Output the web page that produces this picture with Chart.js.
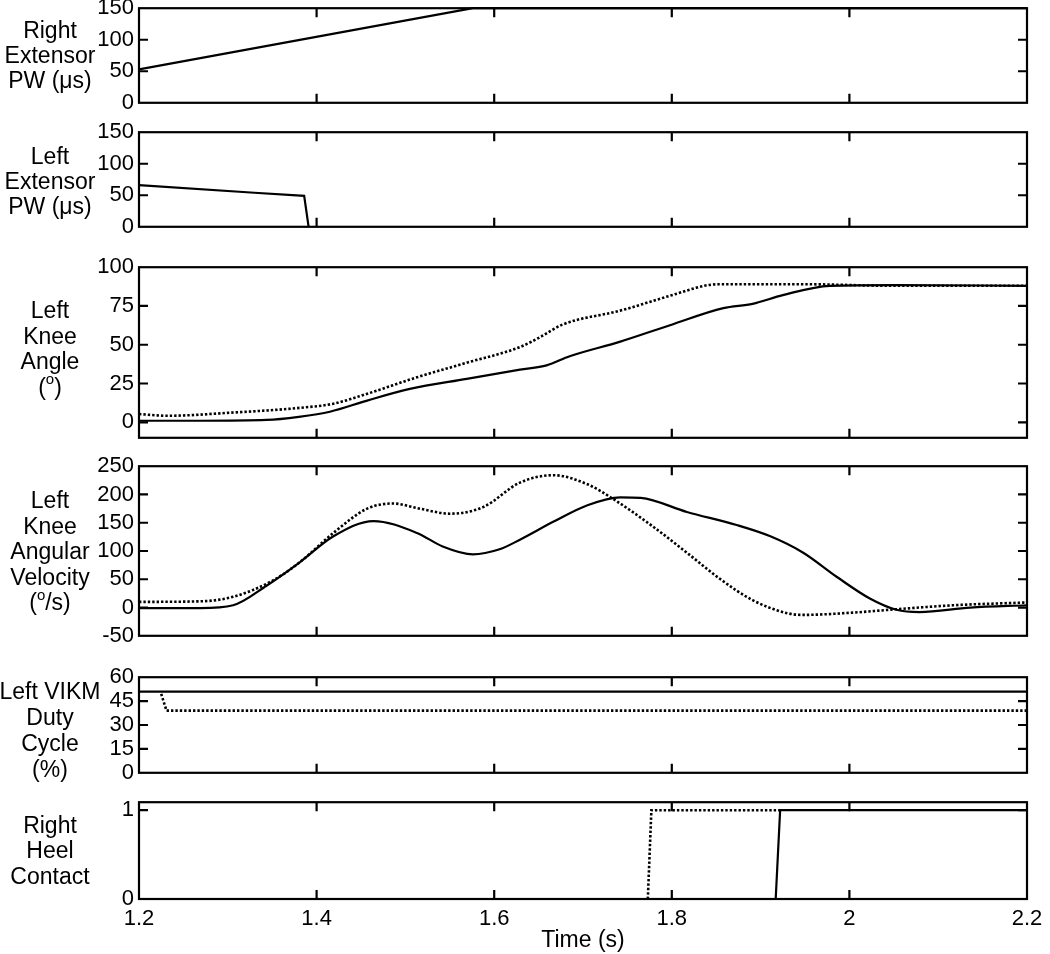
<!DOCTYPE html>
<html><head><meta charset="utf-8">
<script src="https://cdn.jsdelivr.net/npm/chart.js@4/dist/chart.umd.min.js"></script>
<style>
html,body{margin:0;padding:0;background:#fff;}
#wrap{position:relative;width:1050px;height:954px;overflow:hidden;background:#fff;}
#wrap canvas{position:absolute;left:0;}
</style>
</head><body><div id="wrap"></div>
<script>
// ---- x axis (time, s) ----
const timeTicks = [1.2, 1.4, 1.6, 1.8, 2.0, 2.2];
const timeTickLabels = ['1.2', '1.4', '1.6', '1.8', '2', '2.2'];

// ---- Right extensor PW (us) ----
const rightExtT  = [1.2, 1.576, 2.2];
const rightExtPW = [53, 150, 150];

// ---- Left extensor PW (us) ----
const leftExtT  = [1.2, 1.33, 1.386, 1.391];
const leftExtPW = [66, 54, 49, 0];

// ---- Left knee angle (deg) ----
const kneeAngleSolidT = [1.2, 1.27, 1.344, 1.38, 1.415, 1.457, 1.505, 1.569, 1.629, 1.659, 1.685, 1.742, 1.798, 1.858, 1.891, 1.925, 1.978, 2.05, 2.2];
const kneeAngleSolid  = [1, 1, 1.5, 3.5, 6.8, 14, 21.5, 28, 34, 36.7, 42.6, 52, 62.6, 73.6, 76.4, 82, 88, 88.5, 88];
const kneeAngleDotT = [1.2, 1.232, 1.306, 1.381, 1.419, 1.457, 1.513, 1.569, 1.629, 1.652, 1.677, 1.742, 1.798, 1.84, 1.854, 1.95, 2.05, 2.2];
const kneeAngleDot  = [5.3, 4.2, 6.3, 9.3, 12, 18.4, 29, 38.4, 48.5, 55, 63, 72, 81.6, 88.4, 89, 89, 88, 88];

// ---- Left knee angular velocity (deg/s) ----
const kneeVelSolidT = [1.2, 1.269, 1.306, 1.344, 1.381, 1.419, 1.464, 1.513, 1.542, 1.576, 1.606, 1.629, 1.667, 1.705, 1.742, 1.765, 1.817, 1.873, 1.911, 1.948, 1.986, 2.023, 2.053, 2.079, 2.136, 2.2];
const kneeVelSolid  = [-1, -1, 4, 39, 80, 126, 153, 132, 108, 94, 103, 120, 152, 181, 195, 194, 169, 146, 126, 97, 54, 16, -4, -8, 0, 4];
const kneeVelDotT = [1.2, 1.269, 1.306, 1.351, 1.381, 1.419, 1.457, 1.486, 1.516, 1.55, 1.588, 1.629, 1.667, 1.705, 1.734, 1.779, 1.817, 1.854, 1.891, 1.93, 1.948, 2.004, 2.053, 2.117, 2.2];
const kneeVelDot  = [10, 11, 19, 48, 80, 132, 175, 184, 175, 166, 178, 221, 234, 218, 192, 143, 97, 51, 13, -10, -13, -9, -3, 4, 9];

// ---- Left VIKM duty cycle (%) ----
const vikmSolidT = [1.2, 2.2];
const vikmSolid  = [51, 51];
const vikmDotT = [1.225, 1.231, 2.2];
const vikmDot  = [49.5, 39, 39];

// ---- Right heel contact ----
const heelSolidT = [1.917, 1.922, 2.2];
const heelSolid  = [0, 1, 1];
const heelDotT = [1.773, 1.777, 1.922];
const heelDot  = [0, 1, 1];

// ---- y tick values ----
const pwTicks = [0, 50, 100, 150];
const angleTicks = [0, 25, 50, 75, 100];
const velTicks = [-50, 0, 50, 100, 150, 200, 250];
const dutyTicks = [0, 15, 30, 45, 60];
const heelTicks = [0, 1];

const FONT = '"Liberation Sans", Arial, Helvetica, sans-serif';
const PLOT_LEFT = 139, PLOT_RIGHT = 1027, W = 1050, H = 954, TICK_LEN = 9;

const panels = [
  {title: ['Right', 'Extensor', 'PW (\u03bcs)'], titleY: 57, lh: 25, top: 6, bottom: 105, min: 0, max: 150, yTicks: pwTicks,
   series: [{t: rightExtT, v: rightExtPW, dot: false, smooth: false}]},
  {title: ['Left', 'Extensor', 'PW (\u03bcs)'], titleY: 183, lh: 25, top: 130, bottom: 229, min: 0, max: 150, yTicks: pwTicks,
   series: [{t: leftExtT, v: leftExtPW, dot: false, smooth: false}]},
  {title: ['Left', 'Knee', 'Angle', '(\u00b0)'], titleY: 350, lh: 25.5, top: 265, bottom: 440, min: -10, max: 100, yTicks: angleTicks,
   series: [{t: kneeAngleSolidT, v: kneeAngleSolid, dot: false, smooth: true}, {t: kneeAngleDotT, v: kneeAngleDot, dot: true, smooth: true}]},
  {title: ['Left', 'Knee', 'Angular', 'Velocity', '(\u00b0/s)'], titleY: 553, lh: 25.5, top: 464, bottom: 638, min: -50, max: 250, yTicks: velTicks,
   series: [{t: kneeVelSolidT, v: kneeVelSolid, dot: false, smooth: true}, {t: kneeVelDotT, v: kneeVelDot, dot: true, smooth: true}]},
  {title: ['Left VIKM', 'Duty', 'Cycle', '(%)'], titleY: 732, lh: 26, top: 675, bottom: 775, min: 0, max: 60, yTicks: dutyTicks,
   series: [{t: vikmSolidT, v: vikmSolid, dot: false, smooth: false}, {t: vikmDotT, v: vikmDot, dot: true, smooth: false}]},
  {title: ['Right', 'Heel', 'Contact'], titleY: 852, lh: 25.5, top: 800, bottom: 899, min: 0, max: 1.09, yTicks: heelTicks,
   series: [{t: heelSolidT, v: heelSolid, dot: false, smooth: false}, {t: heelDotT, v: heelDot, dot: true, smooth: false}]}
];

function drawRich(ctx, line, cx, cy) {
  // '\u00b0' is drawn as a superscript small "o"
  const parts = [];
  let buf = '';
  for (const ch of line) {
    if (ch === '\u00b0') { if (buf) parts.push({s: buf, sup: false}); buf = ''; parts.push({s: 'o', sup: true}); }
    else buf += ch;
  }
  if (buf) parts.push({s: buf, sup: false});
  let total = 0;
  parts.forEach(p => { ctx.font = (p.sup ? '15px ' : '23px ') + FONT; p.w = ctx.measureText(p.s).width; total += p.w; });
  let x = cx - total / 2;
  ctx.textAlign = 'left';
  parts.forEach(p => {
    ctx.font = (p.sup ? '15px ' : '23px ') + FONT;
    ctx.fillText(p.s, x, p.sup ? cy - 8 : cy);
    x += p.w;
  });
}

const framePlugin = {
  id: 'frame',
  afterDraw(chart, args, opts) {
    const {ctx, chartArea: a} = chart;
    const x = chart.scales.x, y = chart.scales.y;
    ctx.save();
    ctx.strokeStyle = '#000';
    ctx.lineWidth = 2.2;
    ctx.strokeRect(a.left, a.top, a.right - a.left, a.bottom - a.top);
    ctx.beginPath();
    timeTicks.forEach(v => {
      const px = x.getPixelForValue(v);
      if (px <= a.left + 1 || px >= a.right - 1) return;
      ctx.moveTo(px, a.bottom); ctx.lineTo(px, a.bottom - TICK_LEN);
      ctx.moveTo(px, a.top); ctx.lineTo(px, a.top + TICK_LEN);
    });
    opts.yTicks.forEach(v => {
      const py = y.getPixelForValue(v);
      if (py <= a.top + 1 || py >= a.bottom - 1) return;
      ctx.moveTo(a.left, py); ctx.lineTo(a.left + TICK_LEN, py);
      ctx.moveTo(a.right, py); ctx.lineTo(a.right - TICK_LEN, py);
    });
    ctx.stroke();
    ctx.fillStyle = '#000';
    ctx.textBaseline = 'middle';
    const n = opts.title.length;
    opts.title.forEach((line, i) => {
      const cy = opts.titleY - opts.canvasTop + (i - (n - 1) / 2) * opts.lh;
      drawRich(ctx, line, 50, cy);
    });
    ctx.restore();
  }
};

const wrap = document.getElementById('wrap');
const PAD = 16;
panels.forEach((p, idx) => {
  const last = idx === panels.length - 1;
  const canvasTop = p.top - PAD;
  const height = last ? H - canvasTop : (p.bottom - p.top) + 2 * PAD;
  const cv = document.createElement('canvas');
  cv.width = W; cv.height = height;
  cv.style.top = canvasTop + 'px';
  cv.style.width = W + 'px'; cv.style.height = height + 'px';
  wrap.appendChild(cv);

  const datasets = p.series.map(s => ({
    data: s.t.map((tt, i) => ({x: tt, y: s.v[i]})),
    borderColor: '#000',
    borderWidth: s.dot ? 2.6 : 2.2,
    borderDash: s.dot ? [2.4, 2.0] : [],
    pointRadius: 0,
    fill: false,
    tension: 0,
    cubicInterpolationMode: s.smooth ? 'monotone' : 'default',
    clip: 3
  }));

  new Chart(cv, {
    type: 'line',
    data: {datasets},
    options: {
      responsive: false,
      animation: false,
      events: [],
      layout: {padding: {top: PAD, bottom: last ? 0 : PAD, left: 0, right: W - PLOT_RIGHT}},
      plugins: {
        legend: {display: false},
        tooltip: {enabled: false},
        frame: {yTicks: p.yTicks, title: p.title, titleY: p.titleY, lh: p.lh, canvasTop}
      },
      scales: {
        x: {
          type: 'linear', min: 1.2, max: 2.2,
          display: last,
          afterBuildTicks: s => { s.ticks = timeTicks.map(v => ({value: v})); },
          afterFit: s => { if (last) s.height = 55; },
          grid: {display: false, drawTicks: false},
          border: {display: false},
          ticks: {
            color: '#000', padding: 7, maxRotation: 0, autoSkip: false,
            font: {family: FONT, size: 22},
            callback: (v, i) => timeTickLabels[i]
          },
          title: {display: true, text: 'Time (s)', color: '#000', font: {family: FONT, size: 23}, padding: {top: 0, bottom: 0}}
        },
        y: {
          type: 'linear', min: p.min, max: p.max,
          afterBuildTicks: s => { s.ticks = p.yTicks.map(v => ({value: v})); },
          afterFit: s => { s.width = PLOT_LEFT; },
          grid: {display: false, drawTicks: false},
          border: {display: false},
          ticks: {color: '#000', padding: 5, autoSkip: false, font: {family: FONT, size: 22}, callback: v => String(v)}
        }
      }
    },
    plugins: [framePlugin]
  });
});
</script>
</body></html>
